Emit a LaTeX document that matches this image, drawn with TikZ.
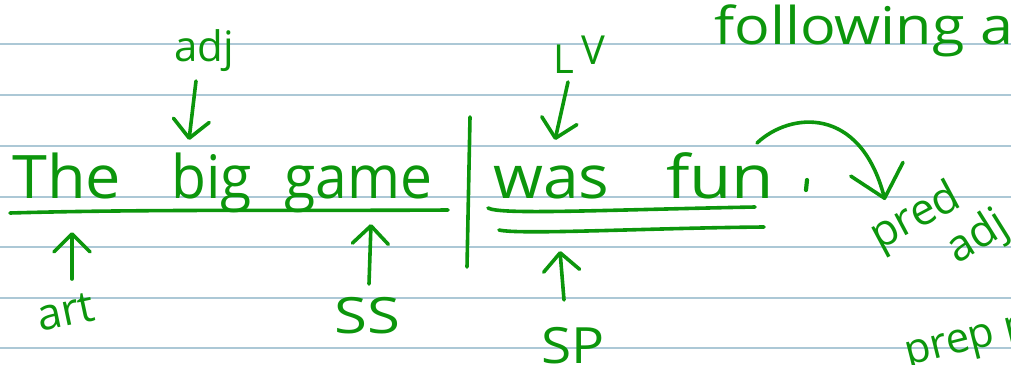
\documentclass[tikz,border=0pt]{standalone}
\usepackage{fontspec}
\setmainfont{Open Sans}
\usetikzlibrary{arrows.meta}
\definecolor{ink}{RGB}{12,150,12}
\definecolor{rulecol}{RGB}{172,200,214}
\begin{document}
\begin{tikzpicture}[x=1pt,y=-1pt,
  hw/.style={text=ink,inner sep=0pt,anchor=base west},
  pen/.style={draw=ink,line width=3.6pt,line cap=round,line join=round},
  arr/.style={pen,-{Straight Barb[length=18pt,width=36pt,round]}},
  bigarr/.style={pen,-{Straight Barb[length=30pt,width=54pt,round]}},
  ruled/.style={draw=rulecol,line width=1.6pt}]
\useasboundingbox (0,0) rectangle (1011,364);
\clip (0,0) rectangle (1011,364);
\foreach \y in {44,95,146,197,247,298,348} \draw[ruled] (0,\y) -- (1011,\y);

% main sentence
\node[hw,font=\fontsize{60}{60}\selectfont] (the) at (12,198) {\scalebox{1.05}[1]{The}};
\node[hw,font=\fontsize{60}{60}\selectfont] (big) at (171,198) {\scalebox{0.95}[1]{big}};
\node[hw,font=\fontsize{60}{60}\selectfont] (game) at (284,198) {\scalebox{0.95}[1]{game}};
\node[hw,font=\fontsize{60}{60}\selectfont] (was) at (493,198) {\scalebox{1.07}[1]{was}};
\node[hw,font=\fontsize{60}{60}\selectfont] (fun) at (666,198) {\scalebox{1.15}[1]{fun}};
\coordinate (dota) at (807,180); \coordinate (dotb) at (806,190);
\draw[pen,line width=4.2pt] (dota) -- (dotb);

% underlines
\coordinate (u1a) at (10,213); \coordinate (u1b) at (448,210);
\draw[pen] (u1a) .. controls (150,209) and (300,211) .. (u1b);
\coordinate (u2a) at (488,208); \coordinate (u2b) at (755,207);
\draw[pen] (u2a) .. controls (500,215) and (600,210) .. (u2b);
\coordinate (u3a) at (499,230); \coordinate (u3b) at (764,227);
\draw[pen] (u3a) .. controls (520,235) and (650,228) .. (u3b);

% vertical bar
\coordinate (b1) at (470,117); \coordinate (b2) at (467,267);
\draw[pen] (b1) -- (b2);

% labels above
\node[hw,font=\fontsize{42}{42}\selectfont] (adj1) at (174,61) {adj};
\coordinate (adjfrom) at (196,81); \coordinate (adjtip) at (189,140);
\draw[arr] (adjfrom) -- (adjtip);

\node[hw,font=\fontsize{40}{40}\selectfont] (L) at (553,73) {L};
\node[hw,font=\fontsize{40}{40}\selectfont] (V) at (581,64) {V};
\coordinate (lvfrom) at (568,82); \coordinate (lvtip) at (555,140);
\draw[arr] (lvfrom) -- (lvtip);

% labels below
\node[hw,font=\fontsize{44}{44}\selectfont,rotate=12] (art) at (40,332) {art};
\coordinate (artfrom) at (72,279); \coordinate (arttip) at (72,232);
\draw[arr] (artfrom) -- (arttip);

\node[hw,font=\fontsize{50}{50}\selectfont] (ss) at (334,333) {\scalebox{1.2}[1]{SS}};
\coordinate (ssfrom) at (369,284); \coordinate (sstip) at (371,224);
\draw[arr] (ssfrom) -- (sstip);

\node[hw,font=\fontsize{50}{50}\selectfont] (sp) at (541,363) {\scalebox{1.1}[1]{SP}};
\coordinate (spfrom) at (564,300); \coordinate (sptip) at (560,251);
\draw[arr] (spfrom) -- (sptip);

% curved arrow to pred adj
\coordinate (cstart) at (757,143);
\coordinate (ctip) at (885,200);
\draw[bigarr] (cstart) .. controls (790,112) and (860,105) .. (ctip);

\node[text=ink,inner sep=0pt,font=\fontsize{44}{44}\selectfont,rotate=28] (pred) at (916,218) {pred};
\node[text=ink,inner sep=0pt,font=\fontsize{44}{44}\selectfont,rotate=32] (adj2) at (978,238) {adj};

% top right
\node[hw,font=\fontsize{52}{52}\selectfont] (follow) at (714,44) {\scalebox{1.14}[1]{following a}};

% bottom right
\node[hw,font=\fontsize{42}{42}\selectfont,rotate=14] (prep) at (908,366) {prep phr};
\end{tikzpicture}
\end{document}
